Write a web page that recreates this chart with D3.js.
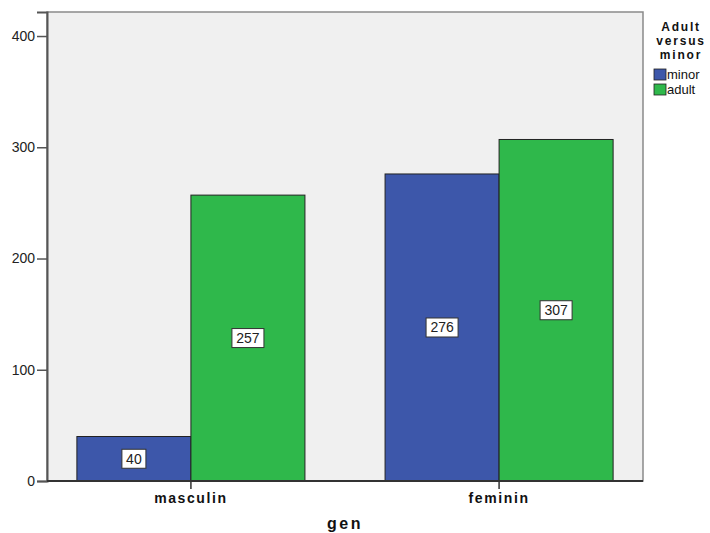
<!DOCTYPE html>
<html>
<head>
<meta charset="utf-8">
<script src="https://cdn.jsdelivr.net/npm/d3@7"></script>
<style>
  body { margin: 0; background: #fff; }
  text { font-family: Arial, "Liberation Sans", sans-serif; }
</style>
</head>
<body>
<div id="chart"></div>
<script>
// data
const genders = ["masculin", "feminin"];
const groups = ["minor", "adult"];
const minorCounts = [40, 276];
const adultCounts = [257, 307];
const yTicks = [0, 100, 200, 300, 400];
const colors = ["#3d57aa", "#2fb84b"];

const W = 710, H = 533;
const margin = { top: 12, right: 67, bottom: 52, left: 47 };
const width = W - margin.left - margin.right,
    height = H - margin.top - margin.bottom;

const svg = d3.select("#chart").append("svg")
    .attr("width", W).attr("height", H);

const g = svg.append("g")
    .attr("transform", "translate(" + margin.left + "," + margin.top + ")");

// background
g.append("rect")
    .attr("width", width).attr("height", height)
    .attr("fill", "#f0f0f0")
    .attr("stroke", "#8a8a8a").attr("stroke-width", 1.5);

var y = d3.scaleLinear().domain([0, 421.6]).range([height, 0]);

var x0 = d3.scaleBand().domain(genders).range([0, width])
    .paddingInner(0.26).paddingOuter(0.097);
var x1 = d3.scaleBand().domain(groups).range([0, x0.bandwidth()]);

// y axis
const yAxis = g.append("g")
    .call(d3.axisLeft(y).tickValues(yTicks).tickSize(10).tickPadding(2));
yAxis.select(".domain").attr("stroke", "#555").attr("stroke-width", 2);
yAxis.selectAll(".tick line").attr("stroke", "#555").attr("stroke-width", 1.5);
yAxis.selectAll("text").attr("font-size", 14).attr("fill", "#222");

// bars
const rows = genders.map((gen, i) => ({ gen: gen, vals: [minorCounts[i], adultCounts[i]] }));

const grp = g.selectAll(".grp").data(rows).enter().append("g")
    .attr("transform", d => "translate(" + x0(d.gen) + ",0)");

const cell = grp.selectAll(".bar")
    .data(d => d.vals.map((v, j) => ({ key: groups[j], v: v, c: colors[j] })))
    .enter().append("g");

cell.append("rect")
    .attr("x", d => x1(d.key))
    .attr("y", d => y(d.v))
    .attr("width", x1.bandwidth())
    .attr("height", d => height - y(d.v))
    .attr("fill", d => d.c)
    .attr("stroke", "#222").attr("stroke-width", 1);

// value labels, box sized to the text
const boxW = d => String(d.v).length * 8 + 8;
cell.append("rect")
    .attr("x", d => x1(d.key) + x1.bandwidth() / 2 - boxW(d) / 2)
    .attr("y", d => y(d.v / 2) - 9.5)
    .attr("width", boxW).attr("height", 19)
    .attr("fill", "#fff")
    .attr("stroke", "#333").attr("stroke-width", 1);
cell.append("text")
    .attr("x", d => x1(d.key) + x1.bandwidth() / 2)
    .attr("y", d => y(d.v / 2) + 5)
    .attr("text-anchor", "middle")
    .attr("font-size", 14).attr("fill", "#222")
    .text(d => d.v);

// x axis
const xAxis = g.append("g")
    .attr("transform", "translate(0," + height + ")")
    .call(d3.axisBottom(x0).tickSize(8).tickPadding(4));
xAxis.select(".domain").remove();
g.append("line").attr("x1", 0).attr("x2", width)
    .attr("y1", height).attr("y2", height)
    .attr("stroke", "#333").attr("stroke-width", 2);
xAxis.selectAll(".tick line").attr("stroke", "#333").attr("stroke-width", 1.5);
xAxis.selectAll("text").attr("font-size", 14).attr("font-weight", "bold")
    .attr("letter-spacing", 1.6).attr("fill", "#111");

svg.append("text")
    .attr("x", margin.left + width / 2).attr("y", 529)
    .attr("text-anchor", "middle")
    .attr("font-size", 16).attr("font-weight", "bold").attr("letter-spacing", 2.5)
    .attr("fill", "#111")
    .text("gen");

// legend
const lg = svg.append("g");
["Adult", "versus", "minor"].forEach((t, i) => {
    lg.append("text")
        .attr("x", 681).attr("y", 31 + i * 14)
        .attr("text-anchor", "middle")
        .attr("font-size", 12).attr("font-weight", "bold").attr("letter-spacing", 1.8)
        .attr("fill", "#111")
        .text(t);
});
groups.forEach((k, i) => {
    lg.append("rect")
        .attr("x", 654).attr("y", 69 + i * 15)
        .attr("width", 12).attr("height", 11)
        .attr("fill", colors[i]).attr("stroke", "#222").attr("stroke-width", 0.8);
    lg.append("text")
        .attr("x", 667).attr("y", 79 + i * 15)
        .attr("font-size", 13).attr("fill", "#111")
        .text(k);
});
</script>
</body>
</html>
